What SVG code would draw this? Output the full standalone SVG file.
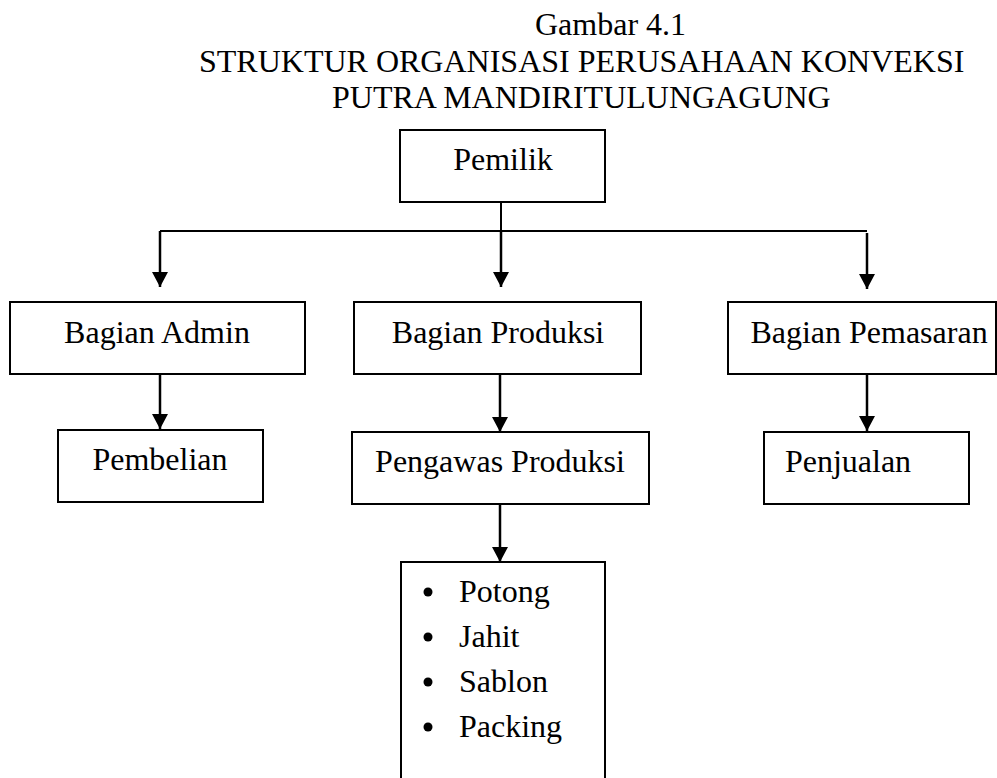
<svg xmlns="http://www.w3.org/2000/svg" width="997" height="778" viewBox="0 0 997 778">
<defs>
<style>
text{font-family:"Liberation Serif","Times New Roman",serif;font-size:32px;fill:#000}
.box{fill:#fff;stroke:#000;stroke-width:2}
.c{text-anchor:middle}
.ln{fill:none;stroke:#000;stroke-width:2}
.ar{fill:none;stroke:#000;stroke-width:2.5;marker-end:url(#ah)}
</style>
<marker id="ah" markerUnits="userSpaceOnUse" markerWidth="16" markerHeight="16" viewBox="0 0 15 16" refX="15" refY="8" orient="auto">
<path d="M0,0 L15,8 L0,16 Z" fill="#000"/>
</marker>
</defs>
<rect width="997" height="778" fill="#fff"/>
<g id="title">
<text x="535" y="35">Gambar 4.1</text>
<text x="199" y="72">STRUKTUR ORGANISASI PERUSAHAAN KONVEKSI</text>
<text x="332" y="108">PUTRA MANDIRITULUNGAGUNG</text>
</g>
<g id="connectors">
<path class="ln" d="M501,202 V231" stroke-width="1.5"/>
<path class="ln" d="M160,231 H867"/>
<path class="ar" d="M160,231 V287"/>
<path class="ar" d="M501,231 V287"/>
<path class="ar" d="M867,233 V289"/>
<path class="ar" d="M160,374 V429"/>
<path class="ar" d="M500,374 V432"/>
<path class="ar" d="M867,374 V431"/>
<path class="ar" d="M500,504 V562"/>
</g>
<g id="pemilik">
<rect class="box" x="400" y="130" width="205" height="72"/>
<text class="c" x="503" y="170">Pemilik</text>
</g>
<g id="bagian-admin">
<rect class="box" x="10" y="302" width="295" height="72"/>
<text class="c" x="157" y="343">Bagian Admin</text>
</g>
<g id="bagian-produksi">
<rect class="box" x="354" y="302" width="287" height="72"/>
<text class="c" x="498" y="343">Bagian Produksi</text>
</g>
<g id="bagian-pemasaran">
<rect class="box" x="728" y="302" width="268" height="72"/>
<text class="c" x="869" y="343">Bagian Pemasaran</text>
</g>
<g id="pembelian">
<rect class="box" x="58" y="430" width="205" height="72"/>
<text class="c" x="160" y="470">Pembelian</text>
</g>
<g id="pengawas-produksi">
<rect class="box" x="352" y="432" width="297" height="72"/>
<text class="c" x="500" y="472">Pengawas Produksi</text>
</g>
<g id="penjualan">
<rect class="box" x="764" y="432" width="205" height="72"/>
<text class="c" x="848" y="472">Penjualan</text>
</g>
<g id="tugas-produksi">
<rect class="box" x="401" y="562" width="204" height="240"/>
<circle cx="428" cy="592" r="4.5"/>
<circle cx="428" cy="637" r="4.5"/>
<circle cx="428" cy="682" r="4.5"/>
<circle cx="428" cy="727" r="4.5"/>
<text x="459" y="602">Potong</text>
<text x="459" y="647">Jahit</text>
<text x="459" y="692">Sablon</text>
<text x="459" y="737">Packing</text>
</g>
</svg>
